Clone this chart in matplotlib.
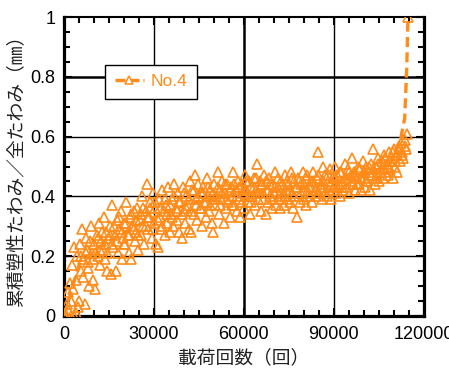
import matplotlib
matplotlib.use("Agg")
import matplotlib.pyplot as plt
from matplotlib.lines import Line2D
from matplotlib.ticker import MultipleLocator

plt.rcParams['font.family'] = ['Liberation Sans', 'Noto Sans CJK JP', 'DejaVu Sans']

cycles = [
    0, 300, 600, 900, 1200, 1500, 1900, 2300, 2700, 3100, 3500, 4000, 4500,
    5000, 5300, 5700, 6100, 6500, 6900, 7300, 7700, 8100, 8500, 8900, 9300, 9700,
    10100, 10500, 10900, 11300, 11700, 12100, 12500, 12900, 13300, 13700, 14100, 14500, 14900,
    15300, 15700, 16100, 16500, 16900, 17300, 17700, 18100, 18500, 18900, 19300, 19700, 20000,
    20400, 20800, 21200, 21600, 22000, 22400, 22800, 23200, 23600, 24000, 24400, 24800, 25200,
    25600, 26000, 26400, 26800, 27200, 27600, 28000, 28400, 28800, 29200, 29600, 30000, 30400,
    30800, 31200, 31600, 32000, 32400, 32800, 33200, 33600, 34000, 34400, 34800, 35200, 35600,
    36000, 36400, 36800, 37200, 37600, 38000, 38400, 38800, 39200, 39600, 40000, 40400, 40800,
    41200, 41600, 42000, 42400, 42800, 43200, 43600, 44000, 44400, 44800, 45200, 45600, 46000,
    46400, 46800, 47200, 47600, 48000, 48400, 48800, 49200, 49600, 50000, 50400, 50800, 51200,
    51600, 52000, 52400, 52800, 53200, 53600, 54000, 54400, 54800, 55200, 55600, 56000, 56400,
    56800, 57200, 57600, 58000, 58400, 58800, 59200, 59600, 60000, 60400, 60800, 61200, 61600,
    62000, 62400, 62800, 63200, 63600, 64000, 64400, 64800, 65200, 65600, 66000, 66400, 66800,
    67200, 67600, 68000, 68400, 68800, 69200, 69600, 70000, 70400, 70800, 71200, 71600, 72000,
    72400, 72800, 73200, 73600, 74000, 74400, 74800, 75200, 75600, 76000, 76400, 76800, 77200,
    77600, 78000, 78400, 78800, 79200, 79600, 80000, 80400, 80800, 81200, 81600, 82000, 82400,
    82800, 83200, 83600, 84000, 84400, 84800, 85200, 85600, 86000, 86400, 86800, 87200, 87600,
    88000, 88400, 88800, 89200, 89600, 90000, 90400, 90800, 91200, 91600, 92000, 92400, 92800,
    93200, 93600, 94000, 94400, 94800, 95200, 95600, 96000, 96400, 96800, 97200, 97600, 98000,
    98400, 98800, 99200, 99600, 100000, 100400, 100800, 101200, 101600, 102000, 102400, 102800, 103200,
    103600, 104000, 104400, 104800, 105200, 105600, 106000, 106400, 106800, 107200, 107600, 108000, 108400,
    108800, 109200, 109600, 110000, 110400, 110800, 111200, 111600, 112000, 112400, 112800, 113200, 113600,
    114000, 114400, 114700,
]
ratio = [
    0.00, 0.01, 0.00, 0.04, 0.08, 0.02, 0.11, 0.05, 0.17, 0.09, 0.23, 0.12, 0.20,
    0.05, 0.24, 0.15, 0.29, 0.19, 0.04, 0.26, 0.22, 0.18, 0.10, 0.30, 0.21, 0.12,
    0.24, 0.09, 0.27, 0.20, 0.31, 0.17, 0.25, 0.22, 0.33, 0.19, 0.28, 0.15, 0.26,
    0.30, 0.14, 0.37, 0.23, 0.27, 0.15, 0.32, 0.21, 0.29, 0.35, 0.19, 0.26, 0.31,
    0.24, 0.38, 0.27, 0.21, 0.33, 0.19, 0.30, 0.35, 0.25, 0.28, 0.36, 0.22, 0.32,
    0.27, 0.40, 0.30, 0.24, 0.35, 0.44, 0.29, 0.33, 0.38, 0.26, 0.41, 0.31, 0.36,
    0.24, 0.23, 0.39, 0.33, 0.29, 0.42, 0.35, 0.27, 0.37, 0.31, 0.43, 0.28, 0.34,
    0.39, 0.30, 0.44, 0.36, 0.32, 0.41, 0.28, 0.38, 0.26, 0.43, 0.35, 0.31, 0.40,
    0.37, 0.29, 0.45, 0.28, 0.42, 0.34, 0.47, 0.39, 0.32, 0.44, 0.36, 0.41, 0.30,
    0.43, 0.38, 0.33, 0.46, 0.40, 0.35, 0.42, 0.31, 0.28, 0.44, 0.37, 0.40, 0.48,
    0.34, 0.42, 0.39, 0.45, 0.31, 0.41, 0.36, 0.44, 0.38, 0.33, 0.43, 0.40, 0.48,
    0.37, 0.42, 0.35, 0.45, 0.39, 0.33, 0.44, 0.41, 0.36, 0.47, 0.42, 0.38, 0.45,
    0.34, 0.43, 0.40, 0.46, 0.37, 0.42, 0.51, 0.39, 0.45, 0.35, 0.44, 0.41, 0.47,
    0.34, 0.42, 0.38, 0.46, 0.40, 0.36, 0.44, 0.41, 0.48, 0.37, 0.43, 0.39, 0.36,
    0.45, 0.40, 0.37, 0.47, 0.42, 0.39, 0.44, 0.38, 0.48, 0.41, 0.36, 0.45, 0.43,
    0.33, 0.46, 0.40, 0.38, 0.44, 0.48, 0.39, 0.42, 0.37, 0.47, 0.43, 0.40, 0.45,
    0.38, 0.48, 0.42, 0.40, 0.46, 0.55, 0.41, 0.44, 0.39, 0.50, 0.43, 0.47, 0.40,
    0.45, 0.42, 0.49, 0.39, 0.46, 0.43, 0.50, 0.41, 0.47, 0.44, 0.40, 0.48, 0.45,
    0.42, 0.51, 0.46, 0.43, 0.49, 0.41, 0.47, 0.53, 0.44, 0.48, 0.42, 0.46, 0.50,
    0.44, 0.49, 0.42, 0.52, 0.46, 0.43, 0.50, 0.45, 0.48, 0.42, 0.51, 0.47, 0.56,
    0.44, 0.50, 0.47, 0.53, 0.45, 0.49, 0.52, 0.46, 0.54, 0.48, 0.51, 0.47, 0.55,
    0.49, 0.53, 0.46, 0.56, 0.50, 0.54, 0.48, 0.57, 0.52, 0.58, 0.55, 0.53, 0.57,
    0.56, 0.61, 1.00,
]

# further readings in the dense core of the band
cycles_core = [
    2500, 3200, 4000, 4600, 5600, 6400, 7200, 8000, 8800, 9600,
    10400, 11200, 12000, 12800, 13600, 14400, 15200, 16000, 16800, 17600,
    18400, 19200, 20000, 20800, 21600, 22400, 23200, 24000, 24800, 25600,
    26400, 27200, 28000, 28800, 29600, 30400, 31200, 32000, 32800, 33600,
    34400, 35200, 36000, 36800, 37600, 38400, 39200, 40000, 40800, 41600,
    42400, 43200, 44000, 44800, 45600, 46400, 47200, 48000, 48800, 49600,
    50400, 51200, 52000, 52800, 53600, 54400, 55200, 56000, 56800, 57600,
    58400, 59200, 60000, 60800, 61600, 62400, 63200, 64000, 64800, 65600,
    66400, 67200, 68000, 68800, 69600, 70400, 71200, 72000, 72800, 73600,
    74400, 75200, 76000, 76800, 77600, 78400, 79200, 80000, 80800, 81600,
    82400, 83200, 84000, 84800, 85600, 86400, 87200, 88000, 88800, 89600,
    90400, 91200, 92000, 92800, 93600, 94400, 95200, 96000, 96800, 97600,
    98400, 99200, 100000, 100800, 101600, 102400, 103200, 104000, 104800, 105600,
    106400, 107200, 108000, 108800, 109600, 110400, 111200, 112000, 112800, 113600,
]
ratio_core = [
    0.00, 0.00, 0.01, 0.03, 0.20, 0.13, 0.21, 0.16, 0.25, 0.19,
    0.21, 0.26, 0.22, 0.28, 0.24, 0.21, 0.27, 0.24, 0.30, 0.25,
    0.33, 0.28, 0.24, 0.31, 0.27, 0.34, 0.29, 0.32, 0.27, 0.34,
    0.36, 0.30, 0.33, 0.36, 0.29, 0.38, 0.32, 0.36, 0.30, 0.39,
    0.34, 0.37, 0.33, 0.40, 0.35, 0.38, 0.34, 0.41, 0.36, 0.39,
    0.35, 0.42, 0.37, 0.40, 0.36, 0.41, 0.38, 0.43, 0.37, 0.41,
    0.39, 0.43, 0.37, 0.41, 0.44, 0.39, 0.42, 0.37, 0.44, 0.40,
    0.43, 0.38, 0.42, 0.45, 0.40, 0.38, 0.43, 0.46, 0.41, 0.44,
    0.39, 0.45, 0.42, 0.44, 0.39, 0.43, 0.46, 0.41, 0.44, 0.40,
    0.45, 0.42, 0.46, 0.40, 0.43, 0.45, 0.41, 0.44, 0.46, 0.41,
    0.43, 0.45, 0.42, 0.47, 0.43, 0.45, 0.41, 0.47, 0.44, 0.42,
    0.46, 0.43, 0.48, 0.44, 0.46, 0.43, 0.48, 0.45, 0.47, 0.44,
    0.49, 0.46, 0.48, 0.45, 0.50, 0.47, 0.49, 0.46, 0.51, 0.48,
    0.50, 0.53, 0.50, 0.52, 0.55, 0.52, 0.54, 0.56, 0.54, 0.59,
]

# dashed curve through the band, rising at failure
trend_x = [0, 5000, 10000, 20000, 30000, 40000, 50000, 60000, 70000, 80000,
           90000, 100000, 108000, 112000, 113600, 114300, 114700]
trend_y = [0.0, 0.17, 0.22, 0.28, 0.33, 0.37, 0.39, 0.41, 0.42, 0.43,
           0.45, 0.47, 0.50, 0.58, 0.66, 0.83, 1.00]

orange = '#ff8c1a'

fig = plt.figure(figsize=(4.49, 3.70), dpi=100)
ax = fig.add_axes([0.1425, 0.146, 0.8015, 0.808])

ax.plot(trend_x, trend_y, color=orange, lw=2.4, ls=(0, (3, 1.6)), zorder=3)
ax.plot(cycles + cycles_core, ratio + ratio_core, ls='none', marker='^', ms=7,
        mec=orange, mfc='none', mew=1.2, zorder=4)

ax.set_xlim(0, 120000)
ax.set_ylim(0, 1)
ax.xaxis.set_major_locator(MultipleLocator(30000))
ax.xaxis.set_minor_locator(MultipleLocator(5000))
ax.yaxis.set_major_locator(MultipleLocator(0.2))
ax.yaxis.set_minor_locator(MultipleLocator(0.05))
ax.set_yticks([0, 0.2, 0.4, 0.6, 0.8, 1.0], ['0', '0.2', '0.4', '0.6', '0.8', '1'])

# grid lines: thin ones plus heavier ones at 60000 and 0.8
for gx in [30000, 90000]:
    ax.axvline(gx, color='black', lw=1.0, zorder=1)
ax.axvline(60000, color='black', lw=1.8, zorder=1)
for gy in [0.2, 0.4, 0.6]:
    ax.axhline(gy, color='black', lw=1.0, zorder=1)
ax.axhline(0.8, color='black', lw=1.8, zorder=1)

ax.tick_params(which='both', direction='in', top=True, right=True,
               labelsize=13, colors='black', width=1.5)
ax.tick_params(axis='x', which='major', length=6, pad=7)
ax.tick_params(axis='y', which='major', length=6, pad=6)
ax.tick_params(which='minor', length=4)
for side in ['left', 'right', 'bottom']:
    ax.spines[side].set_linewidth(2.3)
ax.spines['top'].set_linewidth(1.5)

ax.set_xlabel('載荷回数（回）', fontsize=13.5, color='#222222', labelpad=5)
ax.set_ylabel('累積塑性たわみ／全たわみ（㎜）', fontsize=13.5, color='#222222', labelpad=3)

handle = Line2D([], [], color=orange, lw=2.4, ls=(0, (3, 1.2)), marker='^', ms=6,
                mec=orange, mfc='white', mew=1.1)
leg = ax.legend([handle], ['No.4'], loc='lower left', bbox_to_anchor=(0.114, 0.726),
                borderaxespad=0, fancybox=False, framealpha=1, edgecolor='black',
                fontsize=12.5, handlelength=1.7, handletextpad=0.4,
                borderpad=0.55, labelcolor=orange)
leg.get_frame().set_linewidth(1.0)
leg.set_zorder(5)

fig.savefig('out.png', dpi=100)
